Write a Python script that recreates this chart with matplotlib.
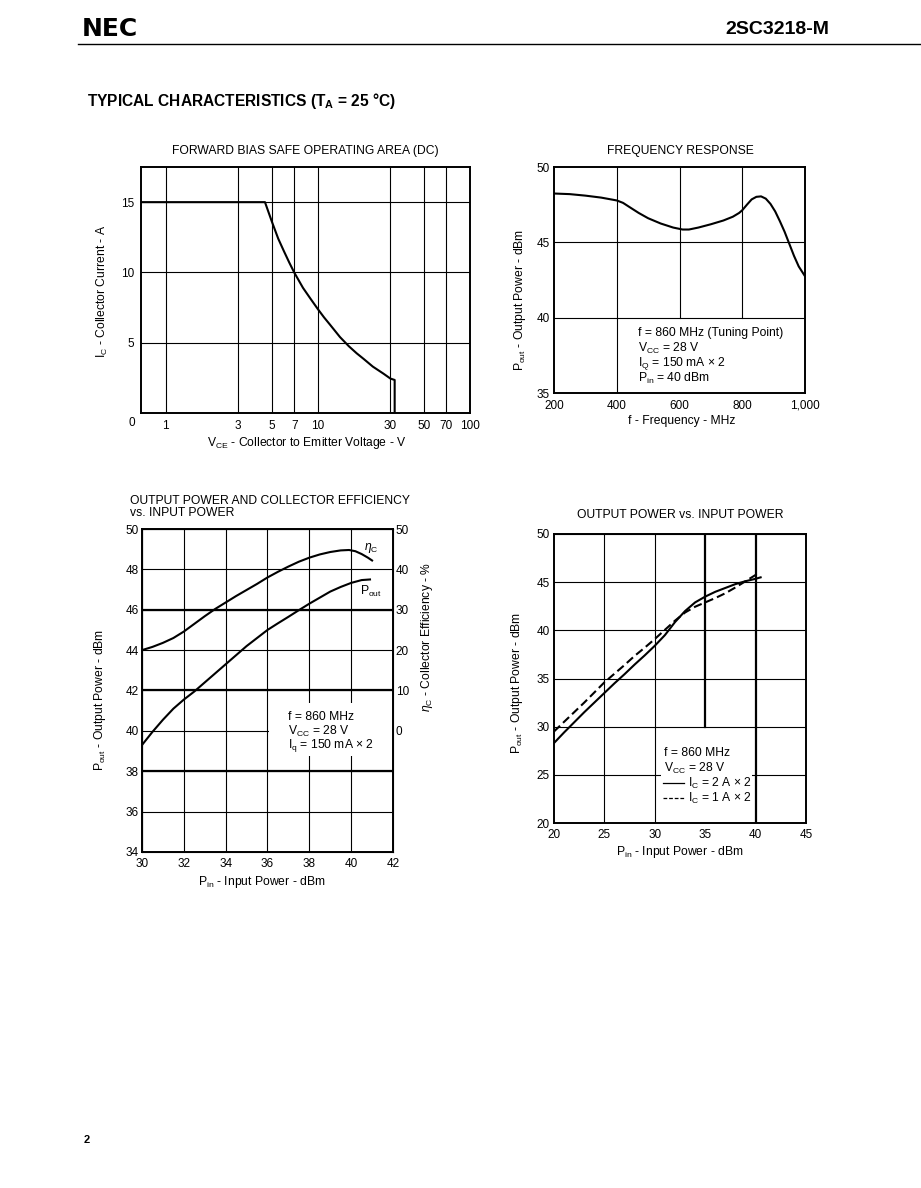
import matplotlib
matplotlib.use('Agg')
import matplotlib.pyplot as plt
from matplotlib.lines import Line2D
from matplotlib.patches import Rectangle
from matplotlib.ticker import NullLocator

plt.rcParams['font.family'] = ['Liberation Sans', 'DejaVu Sans']
plt.rcParams['mathtext.fontset'] = 'custom'
plt.rcParams['mathtext.rm'] = 'Liberation Sans'
plt.rcParams['mathtext.it'] = 'Liberation Sans:italic'
plt.rcParams['mathtext.bf'] = 'Liberation Sans:bold'

W, H = 921, 1188
FS = 8.7        # general text size
TICK = 8.5      # tick label size
LW_CURVE = 1.5
LW_GRID = 0.8
LW_THICK = 1.6

# --- forward bias safe operating area
soa_vce = [0.69, 4.5, 5, 5.5, 6, 6.5, 7, 8, 9, 10, 11, 12, 14, 16, 18, 20, 23, 27, 30, 32, 32]
soa_ic = [15, 15, 13.6, 12.4, 11.5, 10.7, 10.0, 8.9, 8.1, 7.4, 6.8, 6.3, 5.4, 4.75, 4.25, 3.85,
          3.3, 2.8, 2.45, 2.35, 0]
soa_xticks = [1, 3, 5, 7, 10, 30, 50, 70, 100]
soa_yticks = [5, 10, 15]

# --- frequency response
freq = [200, 250, 300, 350, 400, 420, 440, 470, 500, 540, 580, 610, 630, 660, 700, 740, 770,
        790, 800, 815, 830, 845, 860, 875, 890, 905, 920, 935, 950, 965, 980, 1000]
freq_pout = [48.24, 48.2, 48.1, 47.97, 47.78, 47.62, 47.35, 46.95, 46.6, 46.25, 45.98, 45.85,
             45.85, 45.98, 46.2, 46.45, 46.7, 46.95, 47.13, 47.5, 47.85, 48.02, 48.05, 47.9,
             47.55, 47.05, 46.4, 45.7, 44.9, 44.1, 43.4, 42.75]
freq_xticks = [200, 400, 600, 800, 1000]
freq_xlabels = ['200', '400', '600', '800', '1,000']
freq_yticks = [35, 40, 45, 50]

# --- output power and collector efficiency vs input power
pin_a = [30, 30.5, 31, 31.5, 32, 32.5, 33, 33.5, 34, 34.5, 35, 35.5, 36, 36.5, 37, 37.5, 38,
         38.5, 39, 39.5, 40, 40.5, 40.9]
pout_a = [39.3, 39.95, 40.55, 41.1, 41.55, 41.95, 42.4, 42.85, 43.3, 43.75, 44.2, 44.6, 45.0,
          45.33, 45.65, 45.98, 46.3, 46.6, 46.9, 47.13, 47.33, 47.47, 47.5]
pin_e = [30, 30.5, 31, 31.5, 32, 32.5, 33, 33.5, 34, 34.5, 35, 35.5, 36, 36.5, 37, 37.5, 38,
         38.5, 39, 39.5, 39.9, 40.2, 40.5, 40.8, 41.0]
eff_e = [20.0, 20.8, 21.8, 23.0, 24.6, 26.5, 28.4, 30.2, 31.8, 33.4, 34.9, 36.4, 38.0, 39.4,
         40.7, 41.9, 42.9, 43.7, 44.3, 44.7, 44.8, 44.5, 43.8, 42.9, 42.2]

# --- output power vs input power
pin_b = [20, 21, 22, 23, 24, 25, 26, 27, 28, 29, 30, 31, 32, 33, 34, 35, 36, 37, 38, 39, 40, 40.5]
pout_2a = [28.3, 29.4, 30.45, 31.5, 32.5, 33.5, 34.5, 35.45, 36.45, 37.4, 38.4, 39.5, 40.85,
           42.0, 42.9, 43.5, 44.0, 44.4, 44.8, 45.1, 45.35, 45.5]
pin_c = [20, 21, 22, 23, 24, 25, 26, 27, 28, 29, 30, 31, 32, 33, 34, 35, 36, 37, 38, 39, 40, 40.3]
pout_1a = [29.5, 30.5, 31.5, 32.5, 33.55, 34.6, 35.5, 36.4, 37.35, 38.2, 39.1, 40.05, 41.0,
           41.85, 42.45, 42.9, 43.35, 43.85, 44.45, 45.1, 45.75, 46.1]


def box(l, t, r, b):
    return [l / W, 1 - b / H, (r - l) / W, (b - t) / H]


def ftext(x, y, s, **kw):
    kw.setdefault('fontsize', FS)
    fig.text(x / W, 1 - y / H, s, **kw)


def style(ax, pad_x=4, pad_y=4):
    for sp in ax.spines.values():
        sp.set_linewidth(1.4)
    ax.tick_params(length=0, labelsize=TICK)
    ax.tick_params(axis='x', pad=pad_x)
    ax.tick_params(axis='y', pad=pad_y)


fig = plt.figure(figsize=(W / 100, H / 100), dpi=100)

# header
ftext(82, 29, 'NEC', fontsize=18, fontweight='bold', va='center', family='DejaVu Sans')
ftext(829, 29, '2SC3218-M', fontsize=14, fontweight='bold', va='center', ha='right')
fig.add_artist(Line2D([78 / W, 1], [1 - 44 / H, 1 - 44 / H], color='k', lw=1.0))
ftext(87, 101, r'TYPICAL CHARACTERISTICS (T$_\mathbf{A}$ = 25 °C)', fontsize=11.2,
      fontweight='bold', va='center')
ftext(84, 1140, '2', fontsize=8, fontweight='bold', va='center')

# ---------------- chart 1: SOA
ax1 = fig.add_axes(box(141, 167, 470, 413))
ax1.set_xscale('log')
ax1.set_xlim(0.69, 100)
ax1.set_ylim(0, 17.5)
ax1.set_xticks(soa_xticks)
ax1.set_xticklabels([str(v) for v in soa_xticks])
ax1.xaxis.set_minor_locator(NullLocator())
ax1.set_yticks(soa_yticks)
ax1.grid(True, color='k', lw=LW_GRID)
style(ax1, pad_x=5, pad_y=5)
ax1.plot(soa_vce, soa_ic, color='k', lw=LW_CURVE)
ax1.annotate('0', xy=(0, 0), xycoords='axes fraction', xytext=(-6.5, -7.2),
             textcoords='offset points', ha='center', va='center', fontsize=TICK)
ftext(305, 151, 'FORWARD BIAS SAFE OPERATING AREA (DC)', ha='center', va='center')
ftext(307, 443, r'V$_\mathregular{CE}$ - Collector to Emitter Voltage - V', ha='center', va='center')
ftext(102, 291, r'I$_\mathregular{C}$ - Collector Current - A', ha='center', va='center', rotation=90)

# ---------------- chart 2: frequency response
ax2 = fig.add_axes(box(554, 167, 805, 393))
ax2.set_xlim(200, 1000)
ax2.set_ylim(35, 50)
ax2.set_xticks(freq_xticks)
ax2.set_xticklabels(freq_xlabels)
ax2.set_yticks(freq_yticks)
for yv in (40, 45):
    ax2.axhline(yv, color='k', lw=LW_GRID, zorder=0.6)
ax2.axvline(400, color='k', lw=LW_GRID, zorder=0.6)
for xv in (600, 800):
    ax2.axvline(xv, ymin=1 / 3, ymax=1, color='k', lw=LW_GRID, zorder=0.6)
style(ax2, pad_x=5, pad_y=3)
ax2.plot(freq, freq_pout, color='k', lw=LW_CURVE)
ftext(680, 151, 'FREQUENCY RESPONSE', ha='center', va='center')
ftext(682, 421, 'f - Frequency - MHz', ha='center', va='center')
ftext(520, 300, r'P$_\mathregular{out}$ - Output Power - dBm', ha='center', va='center', rotation=90)
for i, s in enumerate(['f = 860 MHz (Tuning Point)', r'V$_\mathregular{CC}$ = 28 V',
                       r'I$_\mathregular{Q}$ = 150 mA × 2', r'P$_\mathregular{in}$ = 40 dBm']):
    ftext(638, 333 + 15 * i, s, va='center')

# ---------------- chart 3: Pout and efficiency vs Pin
ax3 = fig.add_axes(box(142, 529, 393, 852))
ax3.set_xlim(30, 42)
ax3.set_ylim(34, 50)
ax3.set_xticks(range(30, 43, 2))
ax3.set_yticks(range(34, 51, 2))
ax3.set_axisbelow(True)
ax3.grid(True, color='k', lw=LW_GRID)
for yv in (38, 42, 46):
    ax3.axhline(yv, color='k', lw=LW_THICK, zorder=0.8)
ax3.add_patch(Rectangle((36.06, 38.75), 5.94, 2.65, facecolor='white', edgecolor='none', zorder=1))
style(ax3, pad_x=4, pad_y=2.5)
ax3.plot(pin_a, pout_a, color='k', lw=LW_CURVE, zorder=3)
ax3r = ax3.twinx()
ax3r.set_ylim(-30, 50)
ax3r.set_yticks(range(0, 51, 10))
ax3r.tick_params(length=0, labelsize=TICK, pad=2)
ax3r.plot(pin_e, eff_e, color='k', lw=LW_CURVE)
ax3r.text(40.95, 45.4, r'$\eta_\mathregular{C}$', fontsize=FS, ha='center', va='center')
ax3.text(40.95, 46.93, r'P$_\mathregular{out}$', fontsize=FS, ha='center', va='center')
ftext(130, 501, 'OUTPUT POWER AND COLLECTOR EFFICIENCY', va='center')
ftext(130, 513, 'vs. INPUT POWER', va='center')
ftext(262, 882, r'P$_\mathregular{in}$ - Input Power - dBm', ha='center', va='center')
ftext(100, 700, r'P$_\mathregular{out}$ - Output Power - dBm', ha='center', va='center', rotation=90)
ftext(427, 637, r'$\eta_\mathregular{C}$ - Collector Efficiency - %', ha='center', va='center', rotation=90)
for i, s in enumerate(['f = 860 MHz', r'V$_\mathregular{CC}$ = 28 V', r'I$_\mathregular{q}$ = 150 mA × 2']):
    ftext(288, 717 + 14.5 * i, s, va='center')

# ---------------- chart 4: Pout vs Pin
ax4 = fig.add_axes(box(554, 534, 806, 823))
ax4.set_xlim(20, 45)
ax4.set_ylim(20, 50)
ax4.set_xticks(range(20, 46, 5))
ax4.set_yticks(range(20, 51, 5))
ax4.set_axisbelow(True)
ax4.grid(True, axis='y', color='k', lw=LW_GRID)
for xv in (25, 30):
    ax4.axvline(xv, color='k', lw=LW_GRID, zorder=0.6)
ax4.axvline(35, ymin=1 / 3, ymax=1, color='k', lw=LW_THICK, zorder=0.8)
ax4.axvline(40, color='k', lw=LW_THICK, zorder=0.8)
ax4.add_patch(Rectangle((30.6, 21.9), 9.0, 6.7, facecolor='white', edgecolor='none', zorder=1))
style(ax4, pad_x=4, pad_y=3)
ax4.plot(pin_b, pout_2a, color='k', lw=LW_CURVE, zorder=3)
ax4.plot(pin_c, pout_1a, color='k', lw=LW_CURVE, ls=(0, (4, 2)), zorder=3)
ftext(680, 515, 'OUTPUT POWER vs. INPUT POWER', ha='center', va='center')
ftext(680, 852, r'P$_\mathregular{in}$ - Input Power - dBm', ha='center', va='center')
ftext(517, 683, r'P$_\mathregular{out}$ - Output Power - dBm', ha='center', va='center', rotation=90)
ftext(664, 753, 'f = 860 MHz', va='center')
ftext(664, 768, r'V$_\mathregular{CC}$ = 28 V', va='center')
ftext(688, 783, r'I$_\mathregular{C}$ = 2 A × 2', va='center')
ftext(688, 798, r'I$_\mathregular{C}$ = 1 A × 2', va='center')
fig.add_artist(Line2D([663 / W, 684 / W], [1 - 783 / H, 1 - 783 / H], color='k', lw=0.9))
fig.add_artist(Line2D([663 / W, 684 / W], [1 - 798 / H, 1 - 798 / H], color='k', lw=0.9, ls=(0, (3, 1.5))))

fig.savefig('out.png', dpi=100)
